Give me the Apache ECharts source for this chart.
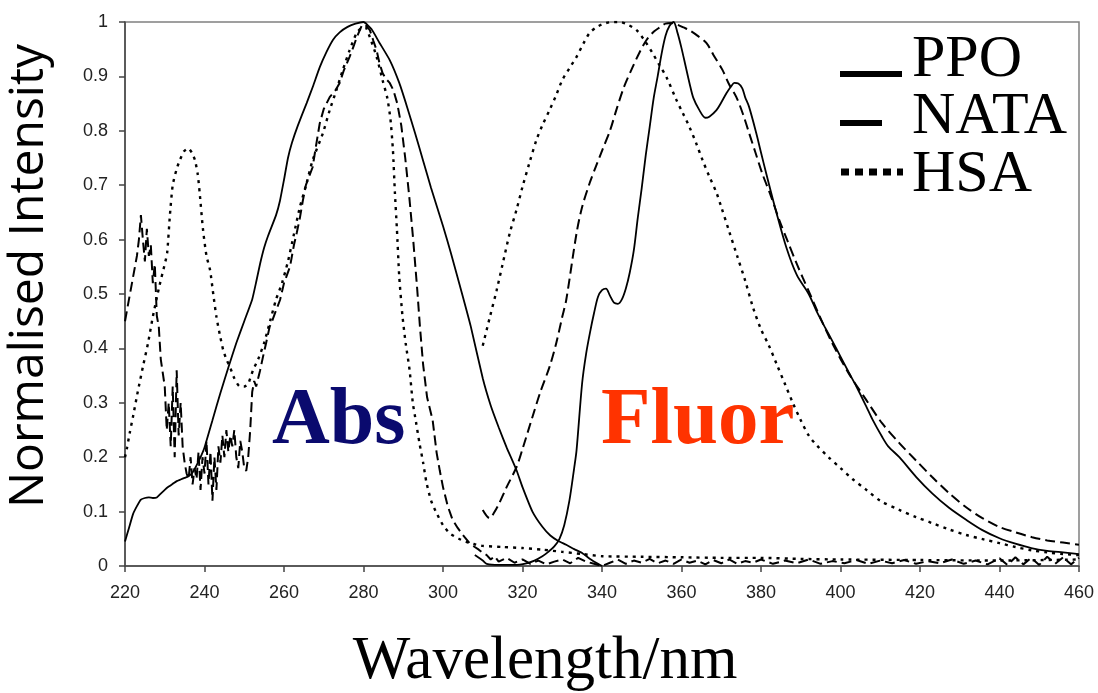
<!DOCTYPE html>
<html>
<head>
<meta charset="utf-8">
<script src="https://cdn.jsdelivr.net/npm/echarts@6/dist/echarts.min.js"></script>
<style>
  html, body { margin: 0; padding: 0; background: #fff; }
  #chart { width: 1098px; height: 693px; }
</style>
</head>
<body>
<div id="chart"></div>
<script>
// Normalised absorption and fluorescence spectra, [wavelength nm, intensity]

const ppoAbs = [
  [220,0.045],[221,0.07],[222,0.095],[223,0.11],[224,0.122],[225,0.125],[226,0.126],[227,0.125],
  [228,0.126],[229,0.133],[230,0.14],[231,0.146],[232,0.151],[233,0.156],[234,0.159],[235,0.162],
  [236,0.165],[237,0.172],[238,0.185],[239,0.2],[240,0.218],[242,0.268],[244,0.318],[246,0.365],
  [248,0.41],[250,0.45],[252,0.49],[253,0.522],[254,0.556],[255,0.585],[256,0.607],[258,0.645],
  [259,0.672],[260,0.71],[261,0.75],[262,0.778],[263.5,0.81],[265.7,0.851],[267.3,0.882],[269,0.917],
  [270.7,0.945],[272.3,0.967],[274,0.981],[276,0.991],[278,0.997],[280,1.0],[282,0.987],[284,0.962],
  [286.6,0.93],[289,0.888],[291,0.843],[293,0.795],[295,0.745],[297,0.695],[300,0.625],[302,0.575],
  [305,0.495],[307,0.44],[310,0.345],[312,0.295],[314,0.255],[316,0.218],[318.5,0.176],[320,0.145],
  [322.5,0.1],[325,0.072],[327,0.056],[329,0.046],[331,0.039],[333,0.031],[335,0.024],[337,0.013],
  [339,0.004],[340,0]
];

const ppoFluor = [
  [308,0.02],[310,0.01],[311,0.004],[314,0.002],[318,0.002],[321,0.005],[323,0.01],[325,0.018],
  [326.5,0.026],[328,0.036],[329.3,0.05],[330.5,0.075],[331.8,0.12],[333,0.18],[333.6,0.213],
  [335,0.336],[336,0.39],[337,0.43],[338,0.465],[339,0.495],[340,0.507],[341,0.51],[342,0.497],
  [343,0.484],[344,0.482],[345,0.49],[346,0.51],[347,0.54],[348,0.58],[349,0.64],[350,0.695],
  [351,0.755],[352,0.807],[353,0.86],[354,0.9],[355,0.942],[356,0.975],[357,0.993],[358,1.0],
  [359,0.98],[360,0.952],[361,0.92],[362,0.888],[363,0.86],[364.5,0.838],[366,0.824],[367,0.826],
  [368.8,0.838],[370,0.852],[371.3,0.869],[372.5,0.882],[373.3,0.888],[374.3,0.887],[375.3,0.878],
  [376,0.862],[377,0.844],[378.8,0.796],[380,0.76],[381.3,0.722],[383.9,0.649],[386.4,0.585],
  [389,0.535],[392,0.5],[394,0.468],[396,0.44],[398,0.413],[400,0.385],[402,0.357],[404,0.33],
  [406.5,0.293],[408,0.27],[410.5,0.237],[412,0.22],[414.8,0.2],[419,0.164],[423,0.134],
  [427.3,0.107],[431.6,0.085],[435.7,0.066],[440,0.051],[444,0.041],[448,0.033],[452,0.028],
  [456,0.025],[460,0.022]
];

const nataAbs = [
  [220,0.45],[220.5,0.47],[221,0.49],[221.5,0.51],[222,0.53],[222.5,0.55],[223,0.57],[223.5,0.6],
  [224,0.645],[224.5,0.6],[225,0.56],[225.5,0.62],[226,0.57],[226.5,0.59],[227,0.52],[227.5,0.555],
  [228,0.46],[228.5,0.44],[229,0.38],[229.5,0.355],[230,0.33],[230.5,0.25],[231,0.3],[231.5,0.22],
  [232,0.33],[232.5,0.2],[233,0.36],[233.5,0.24],[234,0.3],[234.5,0.22],[235,0.19],[235.5,0.17],
  [236,0.16],[236.5,0.2],[237,0.15],[237.5,0.18],[238,0.16],[238.5,0.21],[239,0.14],[239.5,0.2],
  [240,0.17],[240.5,0.23],[241,0.15],[241.5,0.21],[242,0.12],[242.5,0.2],[243,0.14],[243.5,0.22],
  [244,0.19],[244.5,0.24],[245,0.2],[245.5,0.25],[246,0.21],[246.5,0.24],[247,0.22],[247.5,0.25],
  [248,0.2],[248.5,0.18],[249,0.23],[249.5,0.21],[250,0.18],[250.5,0.175],[251,0.2],[251.5,0.25],
  [252,0.32],[252.5,0.34],[253,0.33],[254,0.36],[254.7,0.384],[255.5,0.41],[256.4,0.44],[257,0.45],
  [258,0.47],[259,0.489],[260,0.52],[261.5,0.55],[262.5,0.59],[263.2,0.612],[264,0.64],[264.7,0.67],
  [265.5,0.7],[267.2,0.733],[268,0.77],[269,0.814],[270,0.84],[271.5,0.862],[273,0.875],[274,0.888],
  [275,0.91],[276.5,0.936],[277.5,0.955],[278.3,0.972],[279.6,0.994],[280.5,0.995],[281.6,0.985],
  [282.5,0.965],[283.3,0.948],[284,0.925],[284.8,0.906],[285.7,0.895],[286.6,0.888],[287.5,0.875],
  [288.5,0.85],[289.5,0.81],[290.5,0.75],[291.5,0.68],[292.5,0.6],[293.5,0.51],[294.2,0.44],
  [295,0.37],[296,0.31],[297.4,0.268],[298.4,0.208],[299.2,0.175],[300,0.145],[301.2,0.11],
  [302.4,0.085],[303.7,0.07],[305,0.057],[306.7,0.042],[308,0.035],[309,0.03],[310,0.024],
  [311,0.02],[312,0.012],[313,0.018],[314,0.008],[316,0.015],[318,0.006],[320,0.012],[322,0.004],
  [324,0.01],[326,0.003],[328,0.008],[330,0.012],[332,0.005],[334,0.015],[336,0.008],[338,0.004],
  [340,0.0],[342,0.006],[344,0.012],[346,0.004],[348,0.01],[350,0.006],[352,0.013],[354,0.005],
  [356,0.01],[358,0.004],[360,0.012],[362,0.006],[364,0.01],[366,0.003],[368,0.011],[370,0.005],
  [372,0.012],[374,0.004],[376,0.009],[378,0.006],[380,0.012],[383,0.004],[386,0.01],[389,0.005],
  [392,0.012],[395,0.004],[398,0.009],[401,0.005],[404,0.011],[407,0.004],[410,0.01],[413,0.005],
  [416,0.011],[419,0.004],[422,0.009],[425,0.005],[428,0.012],[431,0.004],[434,0.01],[437,0.003],
  [440,0.014],[442,0.002],[444,0.016],[446,0.003],[448,0.015],[450,0.002],[452,0.017],[454,0.004],
  [456,0.016],[458,0.003],[460,0.015]
];

const nataFluor = [
  [310,0.103],[311.7,0.088],[313,0.1],[314.2,0.116],[316,0.145],[318.5,0.182],[320,0.215],
  [322.5,0.274],[324.5,0.32],[326.8,0.366],[328.5,0.41],[330,0.458],[331,0.489],[333.6,0.612],
  [335,0.66],[336.9,0.704],[338.5,0.735],[340.1,0.765],[342,0.8],[343.6,0.838],[345.5,0.88],
  [347.7,0.917],[349.5,0.945],[351.2,0.967],[353,0.982],[354.5,0.99],[356,0.997],[357.5,0.998],
  [359,0.995],[360.5,0.99],[362,0.985],[364,0.975],[366.3,0.961],[368,0.94],[370.3,0.912],
  [372,0.885],[373.8,0.862],[375.5,0.83],[377,0.796],[378.6,0.76],[380.3,0.722],[382.5,0.68],
  [384.6,0.636],[386.7,0.597],[388.9,0.557],[390.5,0.53],[392.2,0.502],[395,0.455],[397.9,0.41],
  [402,0.355],[406.5,0.305],[410.5,0.262],[414.8,0.226],[419,0.194],[423,0.164],[427.3,0.134],
  [431.6,0.108],[435.7,0.088],[439.9,0.072],[444,0.062],[448.2,0.053],[452,0.047],[456,0.043],
  [460,0.039]
];

const hsaAbs = [
  [220,0.2],[220.5,0.217],[221.2,0.245],[222,0.274],[223.2,0.32],[224.5,0.366],[225.8,0.41],
  [227,0.458],[228.5,0.51],[230,0.555],[230.6,0.575],[231.3,0.645],[232,0.7],[233,0.73],
  [233.8,0.746],[234.8,0.762],[235.9,0.768],[236.8,0.76],[237.6,0.746],[238.3,0.72],[238.8,0.685],
  [239.6,0.62],[240.5,0.57],[241.4,0.544],[242.2,0.5],[243,0.458],[244,0.42],[244.7,0.397],
  [245.5,0.38],[246.4,0.366],[247.5,0.345],[248.9,0.33],[250,0.33],[251,0.335],[252.2,0.36],
  [253.5,0.38],[255,0.41],[256.5,0.45],[258,0.49],[259.5,0.52],[261,0.56],[262.5,0.61],[264,0.66],
  [265.7,0.704],[267.2,0.746],[269.8,0.796],[271.5,0.838],[273.2,0.875],[274.8,0.912],[276.5,0.948],
  [278.3,0.98],[279.8,0.99],[280.5,0.99],[281.6,0.972],[283.3,0.936],[284.8,0.893],[286,0.86],
  [286.8,0.82],[287.4,0.765],[287.9,0.686],[288.4,0.62],[289,0.531],[289.8,0.46],[290.6,0.41],
  [291.6,0.36],[292.4,0.3],[293.2,0.265],[294.1,0.225],[295,0.19],[295.8,0.155],[297,0.12],
  [298.4,0.097],[300,0.075],[301.7,0.06],[304,0.05],[306,0.044],[308,0.04],[310,0.037],[315,0.035],
  [320,0.033],[325,0.03],[330,0.026],[335,0.022],[340,0.018],[350,0.017],[360,0.016],[370,0.015],
  [380,0.015],[390,0.013],[400,0.012],[420,0.011],[440,0.01],[460,0.012]
];

const hsaFluor = [
  [310,0.405],[311.7,0.455],[313.5,0.507],[315,0.555],[316.8,0.612],[318.5,0.655],[320,0.697],
  [321.7,0.74],[323.5,0.783],[325,0.81],[326.8,0.838],[328.5,0.866],[330,0.893],[331.8,0.915],
  [333.6,0.936],[335.3,0.96],[336.9,0.98],[339,0.992],[341,0.998],[343,1.0],[344.4,1.0],
  [346.5,0.995],[348.7,0.985],[350.7,0.966],[352.7,0.943],[354.5,0.92],[356.2,0.899],[358.7,0.857],
  [360.3,0.833],[362,0.807],[363.7,0.777],[365.3,0.746],[367,0.716],[368.8,0.686],[370,0.66],
  [372,0.615],[374,0.57],[376,0.525],[378,0.475],[380,0.435],[382,0.405],[384,0.37],[386,0.335],
  [388,0.3],[390,0.268],[392,0.24],[394,0.222],[397,0.2],[400,0.18],[403,0.16],[406.5,0.14],
  [410,0.12],[414.8,0.103],[419,0.09],[423,0.079],[427,0.068],[431.6,0.057],[436,0.049],
  [440,0.042],[444,0.035],[448,0.029],[452,0.025],[456,0.022],[460,0.02]
];

const xTicks = { min: 220, max: 460, step: 20 };
const yTicks = { min: 0, max: 1, step: 0.1 };
const legendNames = ['PPO', 'NATA', 'HSA'];

const solid = { color: '#000', width: 1.8, type: 'solid' };
const dashed = { color: '#000', width: 2, type: [10, 5] };
const dotted = { color: '#000', width: 2.4, type: [3, 5] };

function curve(name, data, style, smooth) {
  return {
    name: name, type: 'line', data: data, showSymbol: false, symbol: 'none',
    smooth: smooth, lineStyle: style, silent: true, animation: false, z: 3
  };
}

const chart = echarts.init(document.getElementById('chart'), null, { renderer: 'canvas' });

const axisColor = '#444';
const labelStyle = { color: '#222', fontSize: 18, fontFamily: 'Liberation Sans, Arial, sans-serif' };
const serif = '"Liberation Serif", "Times New Roman", serif';

chart.setOption({
  animation: false,
  backgroundColor: '#fff',
  grid: {
    left: 125, right: 19, top: 22, bottom: 127,
    show: true, borderColor: '#808080', borderWidth: 1.5, backgroundColor: 'transparent'
  },
  xAxis: {
    type: 'value', min: xTicks.min, max: xTicks.max, interval: xTicks.step,
    axisLine: { show: true, onZero: false, lineStyle: { color: axisColor, width: 1.5 } },
    axisTick: { show: true, inside: false, length: 6, lineStyle: { color: axisColor, width: 1.5 } },
    axisLabel: Object.assign({ margin: 18 }, labelStyle),
    splitLine: { show: false }
  },
  yAxis: {
    type: 'value', min: yTicks.min, max: yTicks.max, interval: yTicks.step,
    axisLine: { show: true, onZero: false, lineStyle: { color: axisColor, width: 1.5 } },
    axisTick: { show: true, inside: false, length: 6, lineStyle: { color: axisColor, width: 1.5 } },
    axisLabel: Object.assign({ margin: 17 }, labelStyle),
    splitLine: { show: false }
  },
  series: [
    curve('PPO absorption', ppoAbs, solid, 0.15),
    curve('PPO fluorescence', ppoFluor, solid, 0.3),
    curve('NATA absorption', nataAbs, dashed, false),
    curve('NATA fluorescence', nataFluor, dashed, 0.3),
    curve('HSA absorption', hsaAbs, dotted, 0.2),
    curve('HSA fluorescence', hsaFluor, dotted, 0.3)
  ],
  graphic: [
    // key
    { type: 'line', shape: { x1: 840, y1: 74, x2: 902, y2: 74 }, style: { stroke: '#000', lineWidth: 6 } },
    { type: 'line', shape: { x1: 840, y1: 123, x2: 882, y2: 123 }, style: { stroke: '#000', lineWidth: 6 } },
    { type: 'line', shape: { x1: 841, y1: 172, x2: 903, y2: 172 }, style: { stroke: '#000', lineWidth: 7, lineDash: [8, 6] } },
    { type: 'text', x: 912, y: 60, style: { text: legendNames[0], fill: '#000', font: '60px ' + serif, textAlign: 'left', textVerticalAlign: 'middle' } },
    { type: 'text', x: 912, y: 117, style: { text: legendNames[1], fill: '#000', font: '60px ' + serif, textAlign: 'left', textVerticalAlign: 'middle' } },
    { type: 'text', x: 912, y: 175, style: { text: legendNames[2], fill: '#000', font: '60px ' + serif, textAlign: 'left', textVerticalAlign: 'middle' } },
    // region labels
    { type: 'text', x: 272, y: 422, style: { text: 'Abs', fill: '#0a0a6e', font: 'bold 80px ' + serif, textAlign: 'left', textVerticalAlign: 'middle' } },
    { type: 'text', x: 601, y: 422, style: { text: 'Fluor', fill: '#ff3300', font: 'bold 81px ' + serif, textAlign: 'left', textVerticalAlign: 'middle' } },
    // axis titles
    { type: 'text', x: 545, y: 662, style: { text: 'Wavelength/nm', fill: '#000', font: '61px ' + serif, textAlign: 'center', textVerticalAlign: 'middle' } },
    { type: 'text', x: 29, y: 276, rotation: Math.PI / 2, style: { text: 'Normalised Intensity', fill: '#000', font: '48px "Open Sans", sans-serif', textAlign: 'center', textVerticalAlign: 'middle' } }
  ]
});
</script>
</body>
</html>
